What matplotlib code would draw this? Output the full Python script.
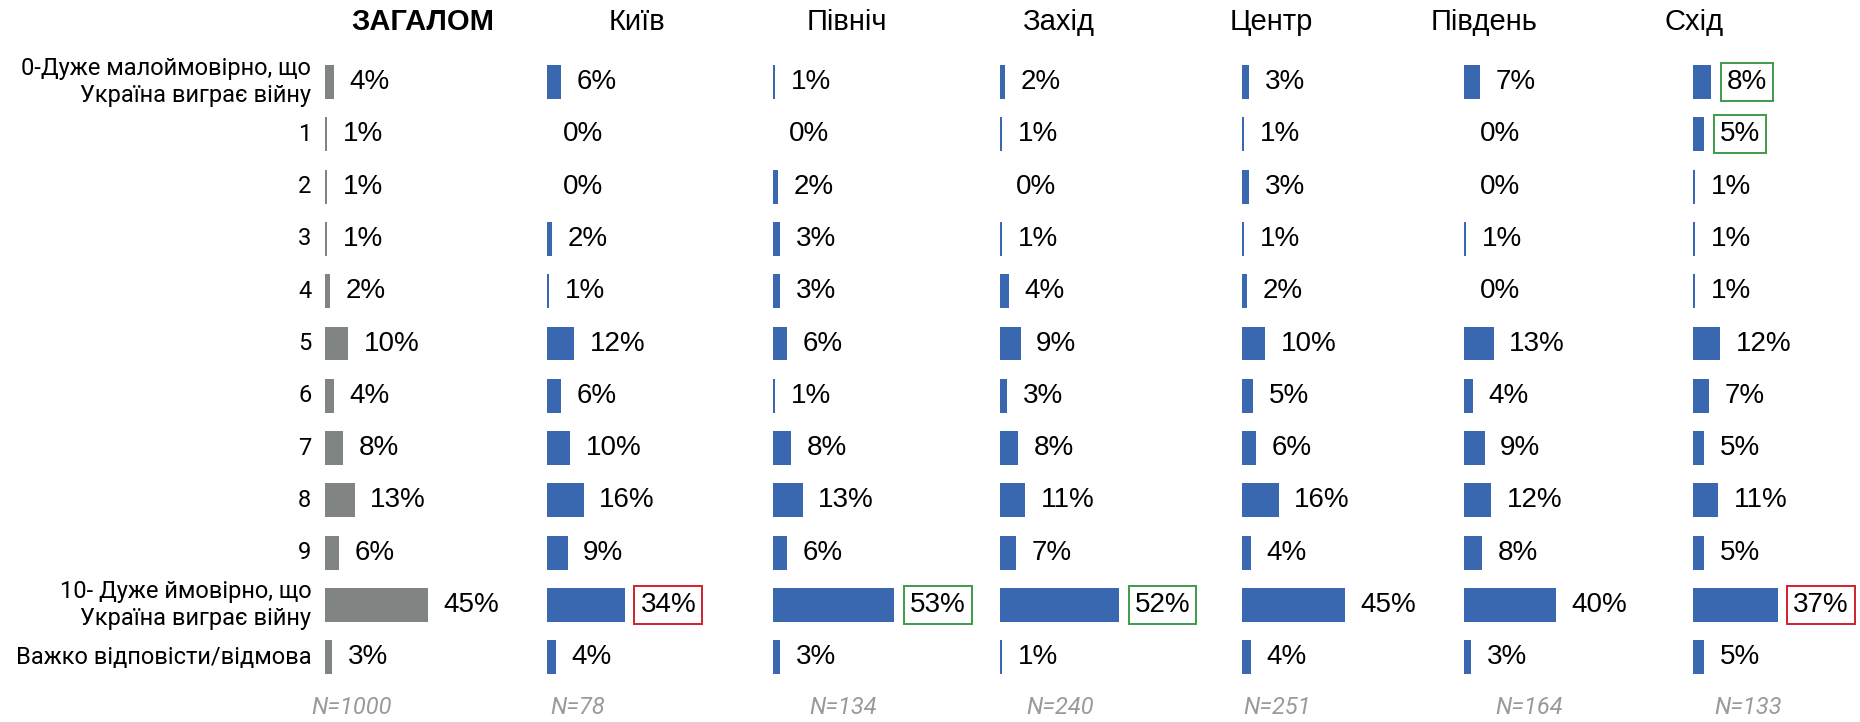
import matplotlib.pyplot as plt
import numpy as np

plt.rcParams['font.family'] = ['Roboto', 'DejaVu Sans']

categories = ['0-Дуже малоймовірно, що\nУкраїна виграє війну', '1', '2', '3', '4', '5', '6', '7', '8', '9',
              '10- Дуже ймовірно, що\nУкраїна виграє війну', 'Важко відповісти/відмова']

regions = ['ЗАГАЛОМ', 'Київ', 'Північ', 'Захід', 'Центр', 'Південь', 'Схід']
sample_sizes = ['N=1000', 'N=78', 'N=134', 'N=240', 'N=251', 'N=164', 'N=133']

total = [4, 1, 1, 1, 2, 10, 4, 8, 13, 6, 45, 3]
kyiv = [6, 0, 0, 2, 1, 12, 6, 10, 16, 9, 34, 4]
north = [1, 0, 2, 3, 3, 6, 1, 8, 13, 6, 53, 3]
west = [2, 1, 0, 1, 4, 9, 3, 8, 11, 7, 52, 1]
center = [3, 1, 3, 1, 2, 10, 5, 6, 16, 4, 45, 4]
south = [7, 0, 0, 1, 0, 13, 4, 9, 12, 8, 40, 3]
east = [8, 5, 1, 1, 1, 12, 7, 5, 11, 5, 37, 5]
series = [total, kyiv, north, west, center, south, east]

# highlighted labels: (panel, row) -> box colour
highlights = {(1, 10): '#d0202e', (6, 10): '#d0202e',
              (2, 10): '#3f9a4a', (3, 10): '#3f9a4a',
              (6, 0): '#3f9a4a', (6, 1): '#3f9a4a'}

W, H = 1860, 722
fig = plt.figure(figsize=(W / 100, H / 100), dpi=100)

px_per_pct = 2.29
xmax = 60
row_h = 52.3
top = 82 - row_h / 2
bar_left = [325, 547, 773, 1000, 1242, 1464, 1693]
head_x = [423, 637, 847, 1058, 1271, 1484, 1694]
n_x = [352, 578, 843, 1060, 1277, 1529, 1748]
n_rows = len(categories)

for p, vals in enumerate(series):
    ax = fig.add_axes([bar_left[p] / W, 1 - (top + row_h * n_rows) / H,
                       xmax * px_per_pct / W, row_h * n_rows / H])
    color = '#808584' if p == 0 else '#3a68b0'
    y = np.arange(n_rows)
    ax.barh(y, vals, height=0.65, color=color)
    ax.set_xlim(0, xmax)
    ax.set_ylim(n_rows - 0.5, -0.5)
    ax.axis('off')
    for i, v in enumerate(vals):
        kw = {}
        if (p, i) in highlights:
            kw['bbox'] = dict(boxstyle='square,pad=0.22', fc='white',
                              ec=highlights[(p, i)], lw=1.4)
        ax.text(v + 6.8, i, f'{v}%', va='center', ha='left', fontsize=20,
                family=['Liberation Sans', 'DejaVu Sans'], color='black', **kw)
    if p == 0:
        for i, c in enumerate(categories):
            ax.text(-6, i, c, va='center', ha='right', fontsize=17,
                    linespacing=1.2)
    fig.text(head_x[p] / W, 1 - 30 / H, regions[p], ha='center', va='baseline',
             fontsize=21, family=['Liberation Sans', 'DejaVu Sans'],
             fontweight='bold' if p == 0 else 'normal')
    fig.text(n_x[p] / W, 1 - 708 / H, sample_sizes[p], ha='center', va='center',
             fontsize=17, style='italic', color='#9a9a9a')

fig.savefig('out.png', dpi=100)
